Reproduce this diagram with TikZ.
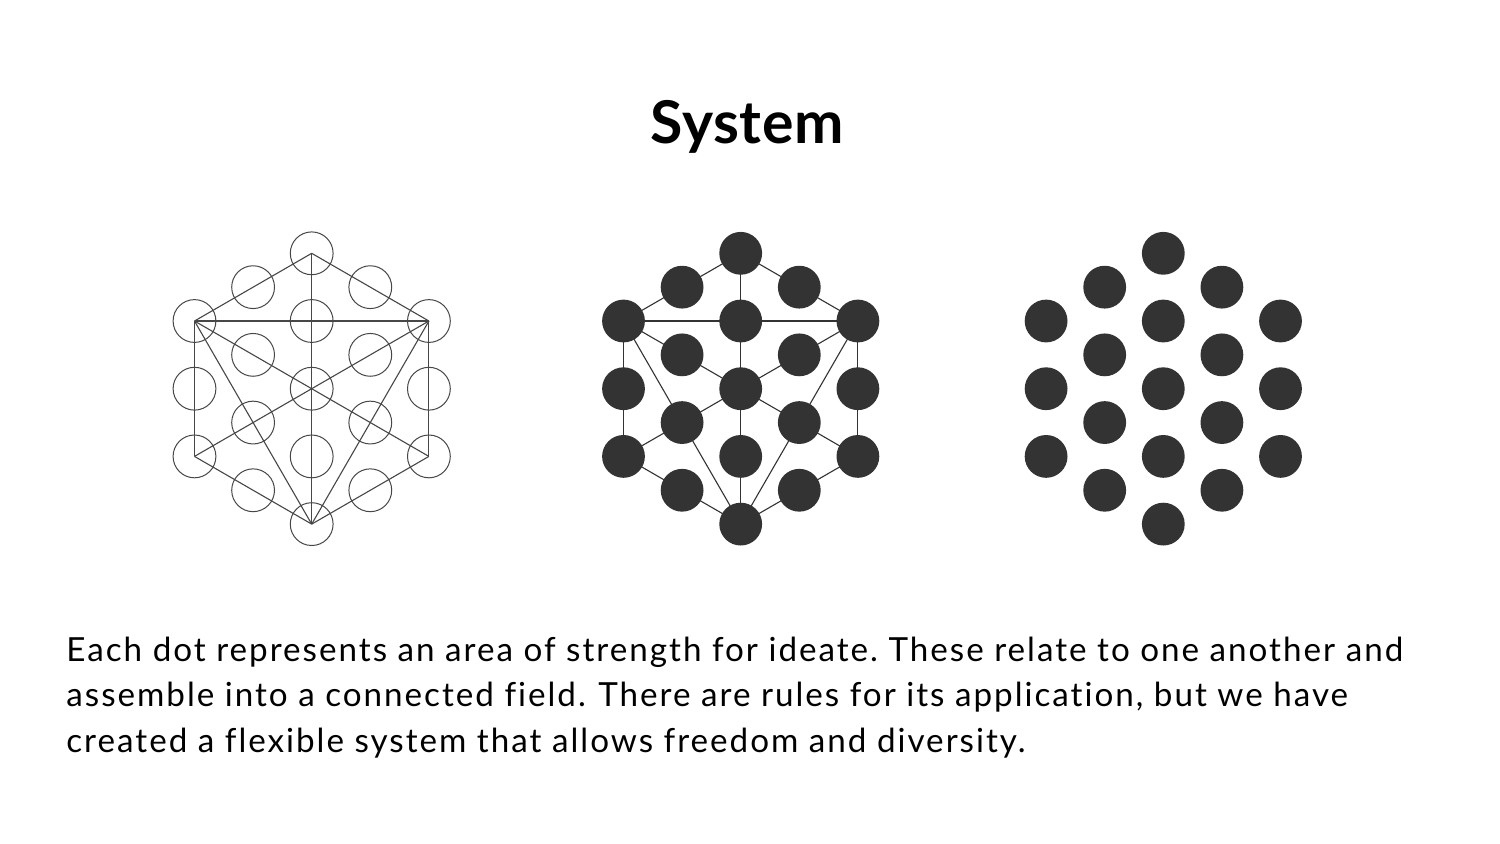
\documentclass[tikz,border=0pt]{standalone}
\usepackage{fontspec}
\setmainfont{Lato}[Ligatures=NoCommon]
\newfontfamily\capfont{Lato}[LetterSpace=6,Ligatures=NoCommon]
\usetikzlibrary{backgrounds}
\definecolor{ink}{HTML}{333333}
\definecolor{wire}{HTML}{474747}
\tikzset{
  ring/.style={circle,draw=wire,line width=0.5pt,inner sep=0pt,minimum size=21.4pt},
  dot/.style={circle,fill=ink,inner sep=0pt,minimum size=21.4pt},
  link/.style={draw=wire,line width=0.55pt},
}
\frenchspacing

\begin{document}
\begin{tikzpicture}[x=0.5pt,y=-0.5pt]
	\begin{scope}[on background layer]
		\fill[white] (0,0) rectangle (1500,843);
	\end{scope}
	\useasboundingbox (0,0) rectangle (1500,843);
	\node[font=\bfseries\fontsize{29.5}{35}\selectfont\addfontfeatures{LetterSpace=1},anchor=base] (title) at (747,143.3) {System};
	
	% three fields of dots
	\foreach \p/\mx/\st in {o/311.7/ring, l/740.7/dot, f/1163.3/dot}
		\foreach \c/\ks in {0/{2,4,6}, 1/{1,3,5,7}, 2/{0,2,4,6,8}, 3/{1,3,5,7}, 4/{2,4,6}}
			\foreach \k in \ks
				\node[\st] (\p-\c-\k) at ({\mx+(\c-2)*58.6},{253.3+\k*33.85}) {};
	
	% lines of the outline field
	\foreach \a/\b in {2-0/4-2, 4-2/4-6, 4-6/2-8, 2-8/0-6, 0-6/0-2, 0-2/2-0, 0-2/4-2, 2-0/2-8, 0-2/4-6, 0-6/4-2, 0-2/2-8, 4-2/2-8}
		\draw[link] (o-\a.center) -- (o-\b.center);
	% same lines behind the filled dots
	\begin{scope}[on background layer]
		\foreach \a/\b in {2-0/4-2, 4-2/4-6, 4-6/2-8, 2-8/0-6, 0-6/0-2, 0-2/2-0, 0-2/4-2, 2-0/2-8, 0-2/4-6, 0-6/4-2, 0-2/2-8, 4-2/2-8}
			\draw[link,draw=ink] (l-\a.center) -- (l-\b.center);
	\end{scope}
	
	\node[anchor=base west,align=left,inner sep=0pt,font=\capfont\fontsize{16.6}{22.75}\selectfont] (caption) at (66,752)
		{Each dot represents an area of strength for ideate. These relate to one another and\\
		assemble into a connected field.\hspace{1pt} There are rules for its application, but we have\\
		created a flexible system that allows freedom and diversity.};
\end{tikzpicture}
\end{document}
